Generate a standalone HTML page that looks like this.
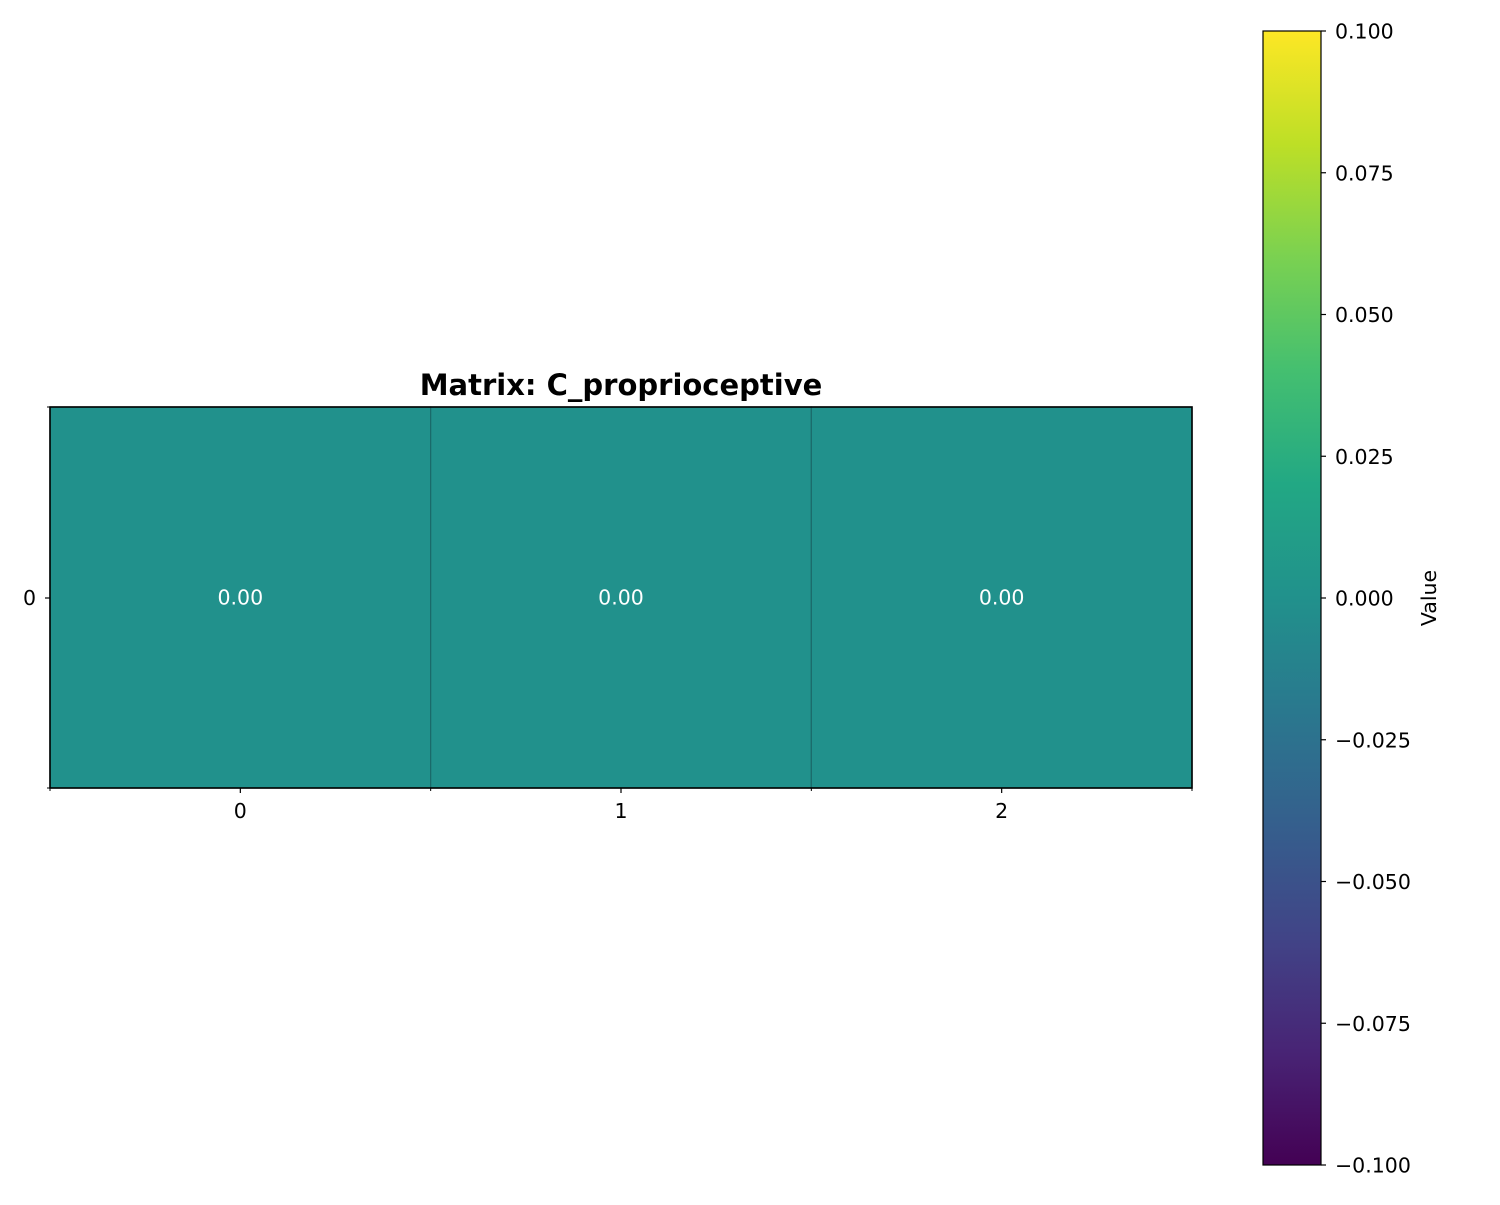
<!DOCTYPE html>
<html><head><meta charset="utf-8"><style>
body{margin:0;background:#fff;}
svg text{font-family:"DejaVu Sans","Liberation Sans",sans-serif;}
</style></head><body>
<svg id="chart" width="1500" height="1200" xmlns="http://www.w3.org/2000/svg">
<defs><linearGradient id="viridis" x1="0" y1="1" x2="0" y2="0">
<stop offset="0" stop-color="#440154"/><stop offset="0.1" stop-color="#482475"/><stop offset="0.2" stop-color="#414487"/><stop offset="0.3" stop-color="#355f8d"/><stop offset="0.4" stop-color="#2a788e"/><stop offset="0.5" stop-color="#21918c"/><stop offset="0.6" stop-color="#22a884"/><stop offset="0.7" stop-color="#44bf70"/><stop offset="0.8" stop-color="#7ad151"/><stop offset="0.9" stop-color="#bddf26"/><stop offset="1" stop-color="#fde725"/>
</linearGradient></defs>
<text x="621" y="395" text-anchor="middle" font-size="29" font-weight="bold">Matrix: C_proprioceptive</text>
<g id="cells"></g>
<g id="xticks"></g>
<g id="cbticks"></g>
<rect x="50" y="407" width="1142" height="381" fill="none" stroke="#000" stroke-width="1.6"/>
<line x1="50" y1="598" x2="45" y2="598" stroke="#000" stroke-width="1.2"/>
<line x1="50" y1="407" x2="47" y2="407" stroke="#000"/><line x1="50" y1="788" x2="47" y2="788" stroke="#000"/>
<text x="36" y="605" text-anchor="end" font-size="20.5">0</text>
<rect x="1263" y="31" width="58" height="1134" fill="url(#viridis)" stroke="#000" stroke-width="1.2"/>
<text transform="translate(1436,598) rotate(-90)" text-anchor="middle" font-size="20.5">Value</text>
</svg>
<script>
const rows=["0"];
const cols=["0","1","2"];
const values=[[0.00,0.00,0.00]];
const cbTicks=[-0.1,-0.075,-0.05,-0.025,0,0.025,0.05,0.075,0.1];
const vmin=-0.1,vmax=0.1;
const ns="http://www.w3.org/2000/svg";
const X0=50,X1=1192,Y0=407,Y1=788;
const cw=(X1-X0)/cols.length, ch=(Y1-Y0)/rows.length;
const xs=i=>X0+i*cw, ys=j=>Y0+j*ch;
const cbY=v=>1165-(v-vmin)/(vmax-vmin)*1134;
const stops=[[0,[68,1,84]],[0.1,[72,36,117]],[0.2,[65,68,135]],[0.3,[53,95,141]],[0.4,[42,120,142]],[0.5,[33,145,140]],[0.6,[34,168,132]],[0.7,[68,191,112]],[0.8,[122,209,81]],[0.9,[189,223,38]],[1,[253,231,37]]];
function color(v){let t=(v-vmin)/(vmax-vmin);t=Math.max(0,Math.min(1,t));
for(let k=1;k<stops.length;k++){if(t<=stops[k][0]){const a=stops[k-1],b=stops[k];const f=(t-a[0])/(b[0]-a[0]);
return 'rgb('+a[1].map((c,i)=>Math.round(c+(b[1][i]-c)*f)).join(',')+')';}}return 'rgb(253,231,37)';}
function mk(t,at,p){const e=document.createElementNS(ns,t);for(const k in at)e.setAttribute(k,at[k]);p.appendChild(e);return e;}
const cg=document.getElementById('cells');
values.forEach((row,j)=>row.forEach((v,i)=>{
 const r=mk('rect',{x:xs(i),y:ys(j),width:cw,height:ch,fill:color(v),stroke:'#1b6a6a','stroke-width':1.2},cg);
 
 
 const t=mk('text',{x:xs(i)+cw/2,y:ys(j)+ch/2+7,'text-anchor':'middle','font-size':20.5,fill:'#fff'},cg);
 t.textContent=v.toFixed(2);
 
 
}));
const xg=document.getElementById('xticks');
cols.forEach((c,i)=>{
 const l=mk('line',{x1:xs(i)+cw/2,x2:xs(i)+cw/2,y1:Y1,y2:Y1+5,stroke:'#000','stroke-width':1.2},xg);
 
 
 const t=mk('text',{x:xs(i)+cw/2,y:Y1+30,'text-anchor':'middle','font-size':20.5},xg);
 t.textContent=c;
 
 
});
for(let i=0;i<=cols.length;i++){mk('line',{x1:xs(i),x2:xs(i),y1:Y1,y2:Y1+3,stroke:'#000'},xg);}
const bg=document.getElementById('cbticks');
cbTicks.forEach(v=>{
 const y=cbY(v);
 const l=mk('line',{x1:1321,x2:1326,y1:y,y2:y,stroke:'#000','stroke-width':1.2},bg);
 
 
 const t=mk('text',{x:1335,y:y+7.5,'font-size':20.5},bg);
 t.textContent=(v<0?'\u2212':'')+(v===0?'0.000':Math.abs(v).toFixed(3));
 
 
});
</script>
</body></html>
